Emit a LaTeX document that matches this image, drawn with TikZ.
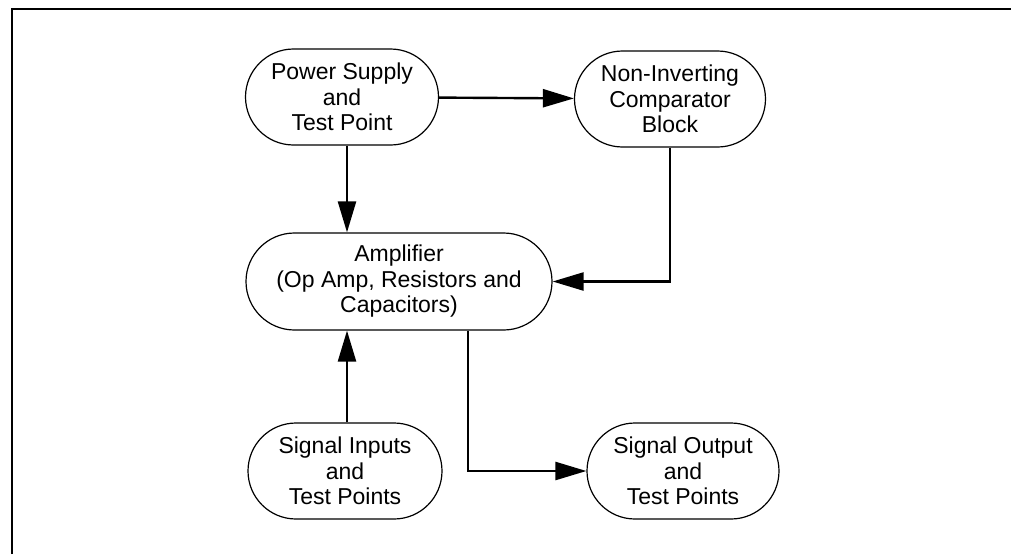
\documentclass[tikz,border=0pt]{standalone}
\usepackage{fontspec}
\setmainfont{Liberation Sans}
\usetikzlibrary{shapes.misc}
\usetikzlibrary{arrows.meta}
\usetikzlibrary{calc}

\begin{document}
\begin{tikzpicture}[x=1pt,y=-1pt]
% style des noeuds
\tikzstyle{bloc} = [rounded rectangle, draw, line width=1.2pt, align=center,
  minimum width=193pt, minimum height=96pt, inner sep=0pt,
  font=\fontsize{23}{25.5}\selectfont]
% style des flèches
\tikzstyle{suite} = [-{Triangle[length=31pt,width=18pt]}, line width=2.4pt]

% cadre
\useasboundingbox (0,0) rectangle (1011,554);
\draw[line width=2.8pt] (12,554) -- (12,9) -- (1011,9);

%% placement des noeuds
\node[bloc] (alim) at (342,97) {Power Supply\\and\\Test Point};
\node[bloc, minimum width=191pt] (comparateur) at (670,99) {Non-Inverting\\Comparator\\Block};
\node[bloc, minimum width=306pt, minimum height=97pt] (ampli) at (399,281.5) {Amplifier\\(Op Amp, Resistors and\\Capacitors)};
\node[bloc, minimum width=194pt] (entrees) at (345,471) {Signal Inputs\\and\\Test Points};
\node[bloc, minimum width=192pt] (sorties) at (683,471) {Signal Output\\and\\Test Points};
%
%% points de départ
\coordinate (alimbas) at ($(alim.south)+(5,0)$);
\coordinate (entreeshaut) at ($(entrees.north)+(2,0)$);
\coordinate (amplibas) at ($(ampli.south)+(69,0)$);
%
%% placement des flèches
\draw[suite] (alim) -- (comparateur);
\draw[suite] (alimbas) -- (alimbas |- ampli.north);
\draw[suite] (entreeshaut) -- (entreeshaut |- ampli.south);
\draw[suite] (comparateur.south) |- (ampli.east);
\draw[suite] (amplibas) |- (sorties.west);
\end{tikzpicture}
\end{document}
